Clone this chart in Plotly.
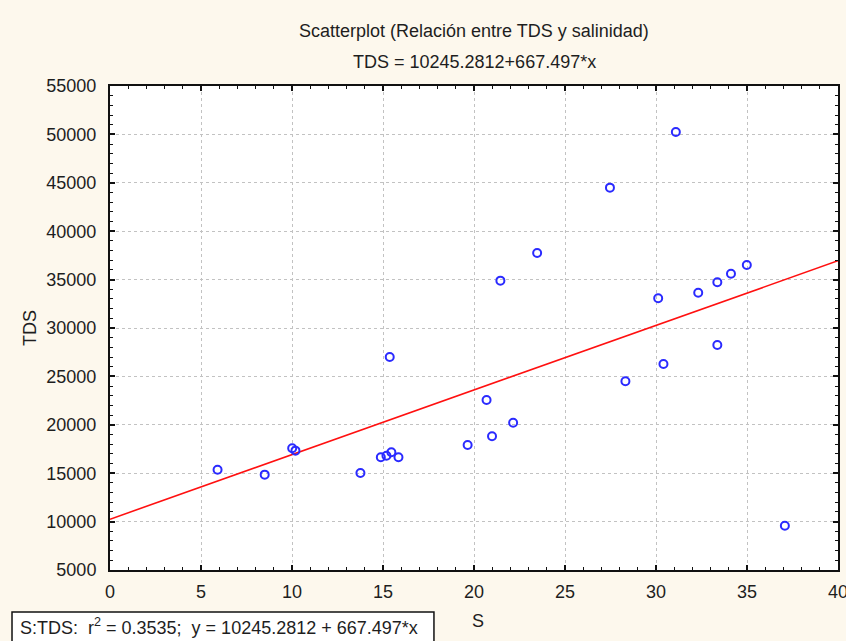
import plotly.graph_objects as go

# Salinity (S) and total dissolved solids (TDS) observations
s_values = [5.91, 8.50, 10.01, 10.19, 13.76, 14.88, 15.19, 15.46, 15.85, 15.37,
            19.65, 20.69, 20.99, 22.15, 21.45, 23.47, 27.47, 31.09, 30.12, 32.32,
            33.37, 34.12, 34.99, 33.37, 30.41, 28.32, 37.08]
tds_values = [15360, 14850, 17570, 17330, 15020, 16640, 16810, 17160, 16640, 27000,
              17910, 22560, 18810, 20220, 34890, 37750, 44500, 50250, 33070, 33650,
              34720, 35610, 36510, 28240, 26280, 24500, 9570]

# Fitted linear regression
intercept = 10245.2812
slope = 667.497
r_squared = 0.3535

x_range = [0, 40]
y_range = [5000, 55000]
x_ticks = [0, 5, 10, 15, 20, 25, 30, 35, 40]
y_ticks = [5000, 10000, 15000, 20000, 25000, 30000, 35000, 40000, 45000, 50000, 55000]

font_family = "Liberation Sans, Arial, sans-serif"
text_color = "#1e1e1e"
font_size = 18

fit_x = [x_range[0], x_range[1]]
fit_y = [intercept + slope * v for v in fit_x]

fig = go.Figure()
fig.add_trace(go.Scatter(
    x=fit_x, y=fit_y, mode="lines",
    line=dict(color="#ff1010", width=1.6),
    hoverinfo="skip", showlegend=False,
))
fig.add_trace(go.Scatter(
    x=s_values, y=tds_values, mode="markers",
    marker=dict(symbol="circle-open", size=8, color="#2a2aff", line=dict(width=2, color="#2a2aff")),
    showlegend=False,
))

axis_common = dict(
    showline=True, linecolor="#111111", linewidth=2, mirror="ticks",
    ticks="inside", ticklen=5, tickwidth=1.5, tickcolor="#111111",
    showgrid=True, gridcolor="#c2c2c2", gridwidth=1, griddash="dot",
    zeroline=False, automargin=False, ticklabeloverflow="allow",
    tickfont=dict(family=font_family, size=font_size, color=text_color),
    minor=dict(ticks="inside", ticklen=3, tickwidth=1.2, tickcolor="#111111", showgrid=False),
)

fig.update_xaxes(range=x_range, tickvals=x_ticks, ticktext=[str(v) for v in x_ticks],
                 minor_dtick=1, ticklabelstandoff=4, **axis_common)
fig.update_yaxes(range=y_range, tickvals=y_ticks, ticktext=[str(v) for v in y_ticks],
                 minor_dtick=1000, ticklabelstandoff=8, **axis_common)

fig.add_annotation(text="Scatterplot (Relación entre TDS y salinidad)", xref="paper", yref="paper",
                   x=0.5, y=1, yshift=55, xanchor="center", yanchor="middle", showarrow=False,
                   font=dict(family=font_family, size=font_size, color=text_color))
fig.add_annotation(text=f"TDS = {intercept}+{slope}*x", xref="paper", yref="paper",
                   x=0.5, y=1, yshift=24, xanchor="center", yanchor="middle", showarrow=False,
                   font=dict(family=font_family, size=font_size, color=text_color))
fig.add_annotation(text="TDS", xref="paper", yref="paper", x=0, y=0.5, xshift=-80,
                   xanchor="center", yanchor="middle", textangle=-90, showarrow=False,
                   font=dict(family=font_family, size=font_size, color=text_color))
fig.add_annotation(text="S", xref="paper", yref="paper", x=0.505, y=0, yshift=-51,
                   xanchor="center", yanchor="middle", showarrow=False,
                   font=dict(family=font_family, size=font_size, color=text_color))

# Regression summary box along the bottom edge
fig.add_shape(type="rect", xref="paper", yref="paper",
              x0=-0.1346, x1=0.445, y0=-0.2, y1=-0.0868,
              line=dict(color="#111111", width=1.5), fillcolor="white", layer="above")
fig.add_annotation(text=f"S:TDS:  r<sup>2</sup> = {r_squared};  y = {intercept} + {slope}*x",
                   xref="paper", yref="paper", x=-0.1264, y=0, yshift=-56,
                   xanchor="left", yanchor="middle", showarrow=False,
                   font=dict(family=font_family, size=font_size, color=text_color))

fig.update_layout(
    width=846, height=641,
    margin=dict(l=110, r=8, t=86, b=71),
    paper_bgcolor="#fdf8ed",
    plot_bgcolor="white",
    font=dict(family=font_family, size=font_size, color=text_color),
)

fig.write_html("out.html")
